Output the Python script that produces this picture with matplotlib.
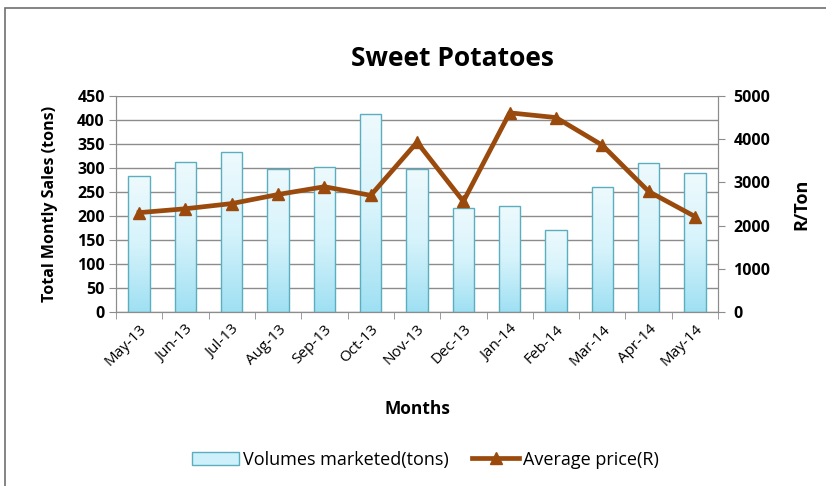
import numpy as np
import matplotlib.pyplot as plt
from matplotlib.patches import Rectangle
from matplotlib.colors import LinearSegmentedColormap

months = ['May-13', 'Jun-13', 'Jul-13', 'Aug-13', 'Sep-13', 'Oct-13', 'Nov-13',
          'Dec-13', 'Jan-14', 'Feb-14', 'Mar-14', 'Apr-14', 'May-14']
volumes = [283, 313, 334, 298, 302, 412, 298, 217, 221, 171, 260, 310, 289]
prices = [2300, 2390, 2510, 2720, 2900, 2700, 3930, 2560, 4610, 4500, 3860, 2790, 2210]

plt.rcParams['font.family'] = ['Open Sans', 'DejaVu Sans']

fig = plt.figure(figsize=(8.26, 4.86), dpi=100)
ax = fig.add_axes([0.1404, 0.358, 0.729, 0.4445])
ax2 = ax.twinx()

x = np.arange(len(months))
grid_c = '#8c8c8c'

# bars with vertical gradient
cmap = LinearSegmentedColormap.from_list('g', ['#9fe0f3', '#d6f3fb', '#eefafd'])
grad = np.linspace(0, 1, 256).reshape(-1, 1)
bars = ax.bar(x, volumes, width=0.46, facecolor='none', edgecolor='#5aaebf',
              linewidth=1.0, zorder=3)
for b in bars:
    x0, y0 = b.get_x(), b.get_y()
    w, h = b.get_width(), b.get_height()
    im = ax.imshow(grad, cmap=cmap, aspect='auto', origin='lower',
                   extent=[x0, x0 + w, y0, y0 + h], zorder=2.5)
    im.set_clip_path(b)

ax.set_xlim(-0.5, len(months) - 0.5)
ax.set_ylim(0, 450)
ax.set_yticks(np.arange(0, 451, 50))
ax.yaxis.grid(True, color=grid_c, linewidth=1.0, zorder=0)
ax.set_axisbelow(True)

ax.set_xticks(x)
ax.set_xticklabels(months, rotation=45, ha='right', rotation_mode='anchor', fontsize=11)
ax.set_xticks(np.arange(-0.5, len(months), 1), minor=True)
ax.tick_params(axis='x', which='major', length=0, pad=7)
ax.tick_params(axis='x', which='minor', length=5, color=grid_c, direction='out')
ax.tick_params(axis='y', length=5, color=grid_c, labelsize=11.5, pad=3)

for s in ['top']:
    ax.spines[s].set_visible(False)
    ax2.spines[s].set_visible(False)
for s in ['left', 'bottom', 'right']:
    ax.spines[s].set_color(grid_c)
    ax2.spines[s].set_color(grid_c)

ax2.plot(x, prices, color='#9a4a0c', linewidth=3.4, marker='^', markersize=9,
         markeredgecolor='#9a4a0c', zorder=5, label='Average price(R)')
ax2.set_ylim(0, 5000)
ax2.set_yticks(np.arange(0, 5001, 1000))
ax2.tick_params(axis='y', length=5, color=grid_c, labelsize=11.5, pad=6)
ax2.set_xlim(-0.5, len(months) - 0.5)

for lab in ax.get_yticklabels() + ax2.get_yticklabels():
    lab.set_fontweight('bold')

ax.set_ylabel('Total Montly Sales (tons)', fontsize=11.5, fontweight='bold', labelpad=14)
ax2.set_ylabel('R/Ton', fontsize=13, fontweight='bold', labelpad=16)
ax.set_xlabel('Months', fontsize=12.5, fontweight='bold', labelpad=22)

fig.text(0.548, 0.88, 'Sweet Potatoes', ha='center', va='center',
         fontsize=19, fontweight='bold')

# legend
leg_bar = Rectangle((0, 0), 1, 1, facecolor='#cdf0fa', edgecolor='#5aaebf')
line, = ax2.get_lines()
fig.legend([leg_bar, line], ['Volumes marketed(tons)', 'Average price(R)'],
           loc='center', bbox_to_anchor=(0.515, 0.054), ncol=2, frameon=False,
           fontsize=13, handlelength=2.6, columnspacing=1.3, handletextpad=0.2)

# outer border
fig.patches.append(Rectangle((0.006, -0.01), 1.0, 0.994, transform=fig.transFigure,
                             fill=False, edgecolor='#707070', linewidth=1.2))

fig.savefig('out.png', dpi=100)
